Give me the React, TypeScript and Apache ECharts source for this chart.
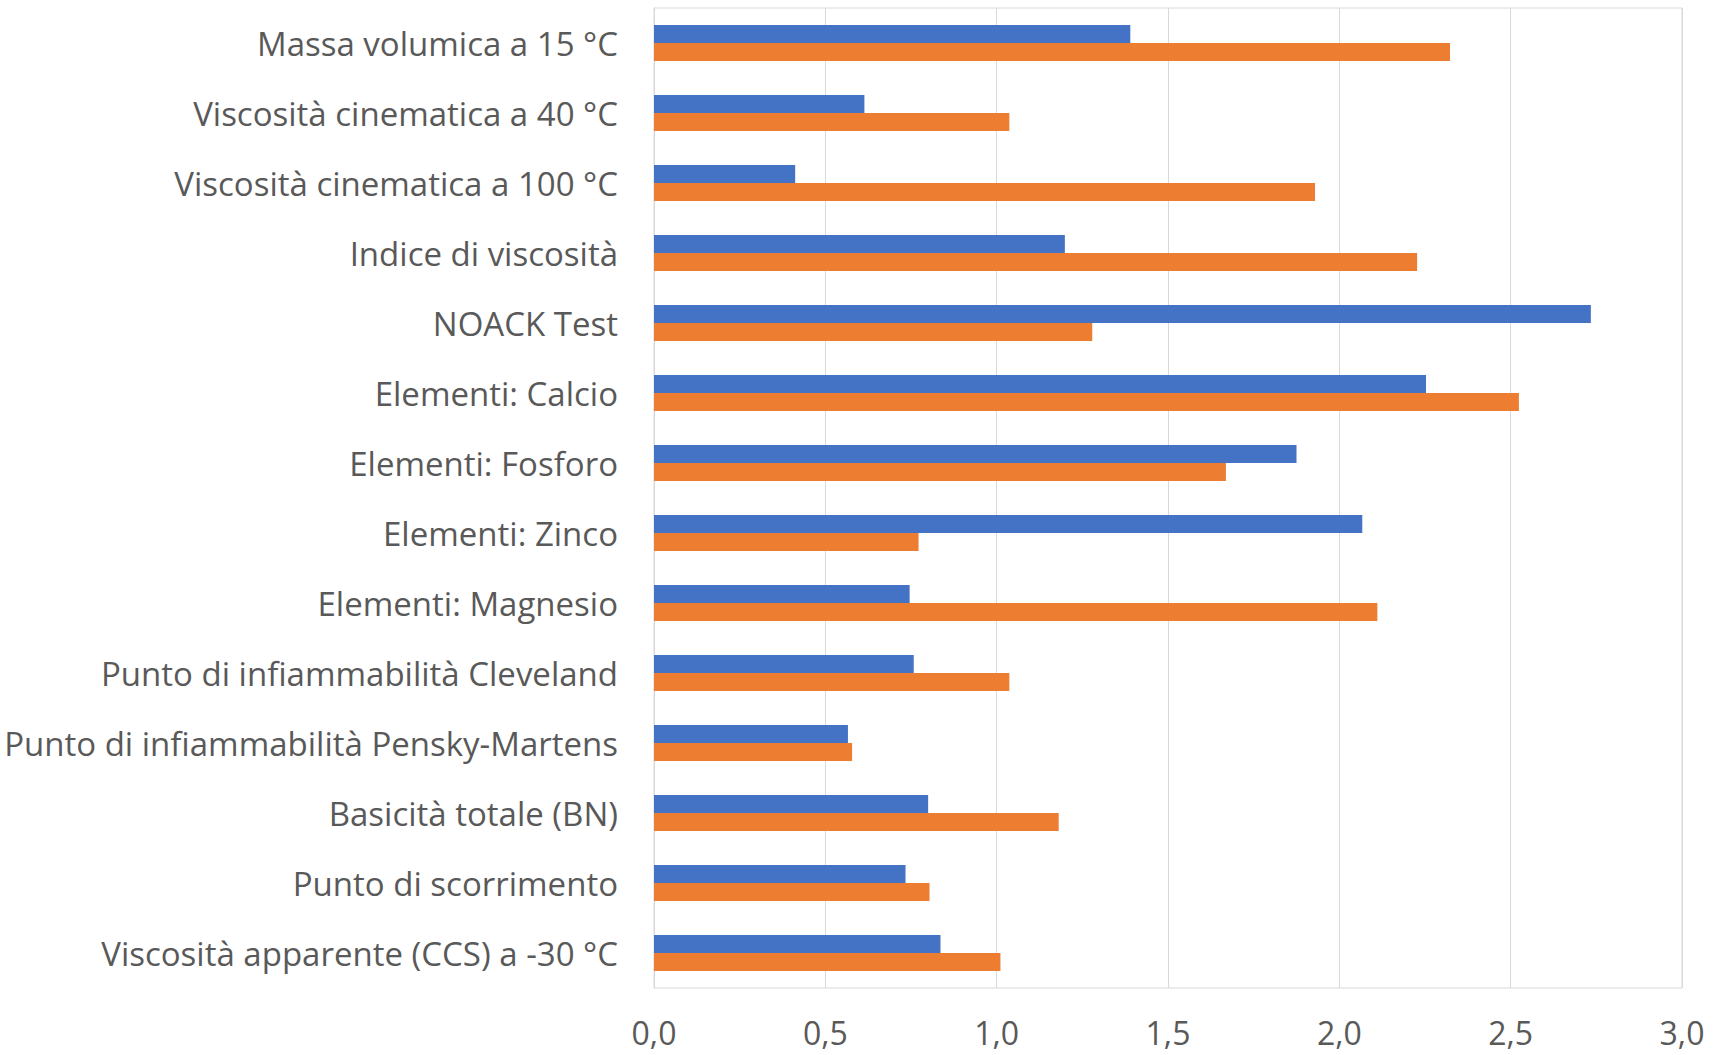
import React, { useEffect, useRef } from "react";
import * as echarts from "echarts";

// Parameters, listed top to bottom
const categories = [
  "Massa volumica a 15 °C",
  "Viscosità cinematica a 40 °C",
  "Viscosità cinematica a 100 °C",
  "Indice di viscosità",
  "NOACK Test",
  "Elementi: Calcio",
  "Elementi: Fosforo",
  "Elementi: Zinco",
  "Elementi: Magnesio",
  "Punto di infiammabilità Cleveland",
  "Punto di infiammabilità Pensky-Martens",
  "Basicità totale (BN)",
  "Punto di scorrimento",
  "Viscosità apparente (CCS) a -30 °C",
];

const serie1 = [1.39, 0.614, 0.412, 1.199, 2.734, 2.253, 1.875, 2.067, 0.746, 0.758, 0.566, 0.8, 0.734, 0.836];
const serie2 = [2.323, 1.037, 1.929, 2.227, 1.279, 2.524, 1.669, 0.772, 2.111, 1.037, 0.578, 1.181, 0.804, 1.011];

const xTicks = [0, 0.5, 1, 1.5, 2, 2.5, 3];

const FONT = "Open Sans";
const TEXT = "#595959";
const GRID = "#D9D9D9";

export default function App() {
  const ref = useRef<HTMLDivElement>(null);

  useEffect(() => {
    if (!ref.current) return;
    const chart = echarts.init(ref.current, undefined, { renderer: "svg" });
    chart.setOption({
      animation: false,
      backgroundColor: "#ffffff",
      grid: {
        left: 654,
        right: 34,
        top: 8,
        bottom: 67,
        show: true,
        borderColor: GRID,
        borderWidth: 1,
      },
      xAxis: {
        type: "value",
        min: xTicks[0],
        max: xTicks[xTicks.length - 1],
        interval: 0.5,
        axisLine: { show: false },
        axisTick: { show: false },
        splitLine: { show: true, lineStyle: { color: GRID, width: 1 } },
        axisLabel: {
          color: TEXT,
          fontFamily: FONT,
          fontSize: 32,
          margin: 28,
          formatter: (v: number) => v.toFixed(1).replace(".", ","),
        },
      },
      yAxis: {
        type: "category",
        data: categories,
        inverse: true,
        axisLine: { show: true, lineStyle: { color: GRID } },
        axisTick: { show: false },
        splitLine: { show: false },
        axisLabel: {
          color: TEXT,
          fontFamily: FONT,
          fontSize: 33,
          margin: 36,
          padding: [0, 0, 4, 0],
        },
      },
      series: [
        {
          name: "Serie 1",
          type: "bar",
          data: serie1,
          barWidth: 18,
          barGap: "0%",
          itemStyle: { color: "#4472C4" },
        },
        {
          name: "Serie 2",
          type: "bar",
          data: serie2,
          barWidth: 18,
          barGap: "0%",
          itemStyle: { color: "#ED7D31" },
        },
      ],
    });
    return () => chart.dispose();
  }, []);

  return (
    <div
      ref={ref}
      style={{ position: "fixed", left: 0, top: 0, width: 1716, height: 1055 }}
    />
  );
}
